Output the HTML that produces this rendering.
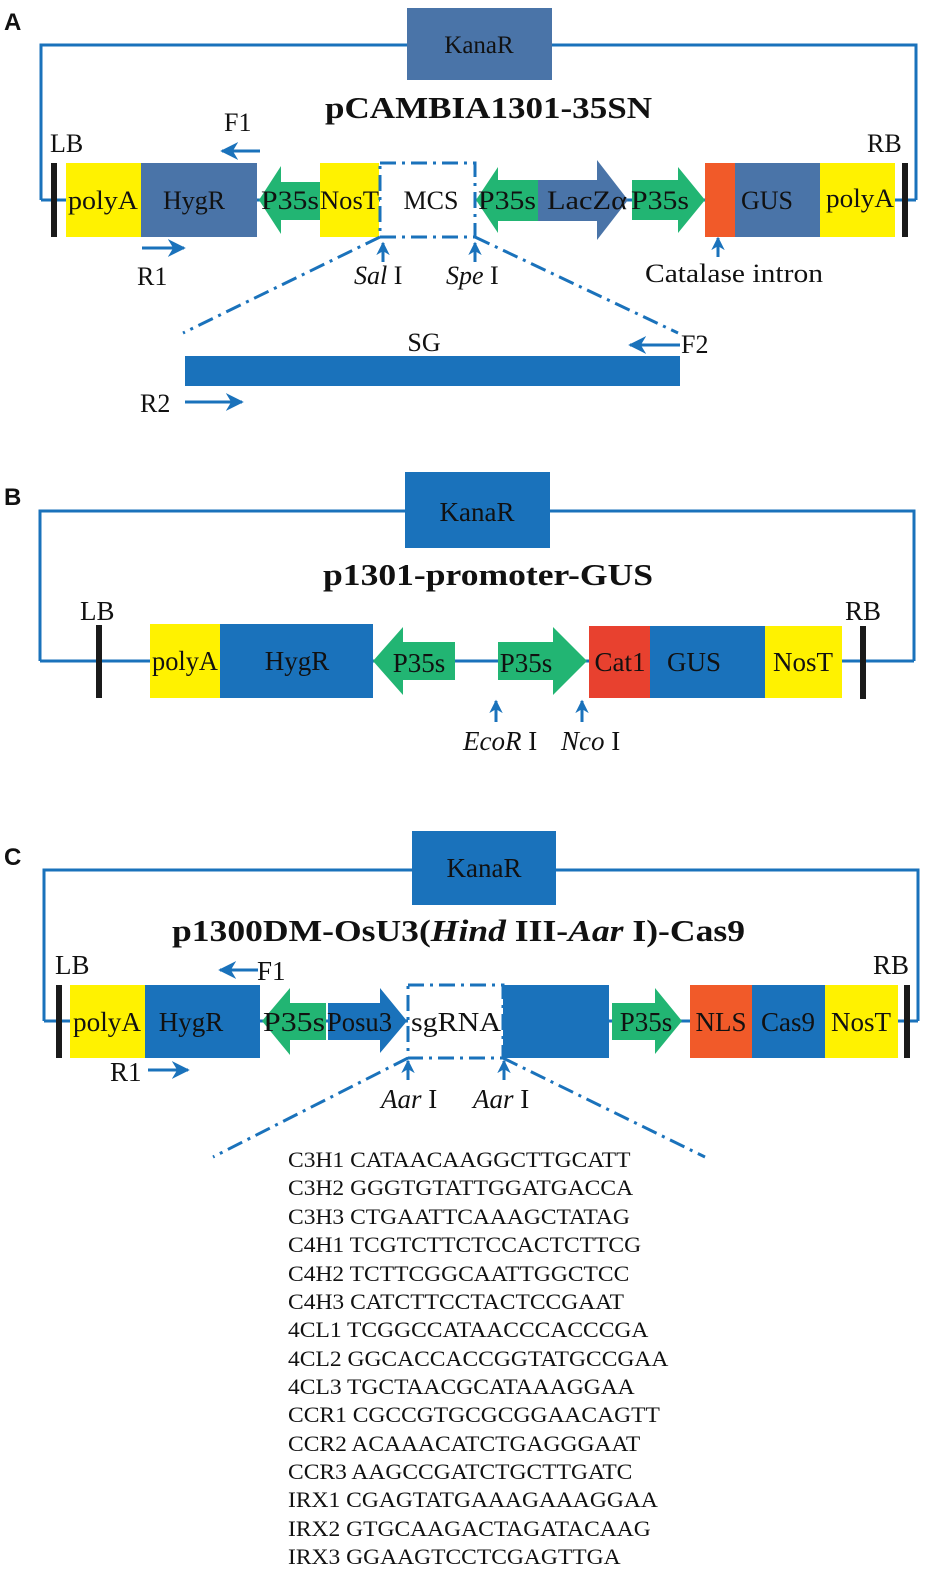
<!DOCTYPE html>
<html><head><meta charset="utf-8"><style>
html,body{margin:0;padding:0;background:#fff;}
svg{display:block;}
text{font-family:"Liberation Serif",serif;fill:#111;}
.pl{font-family:"Liberation Sans",sans-serif;font-weight:bold;font-size:24px;}
</style></head><body>
<svg width="938" height="1569" viewBox="0 0 938 1569" xmlns="http://www.w3.org/2000/svg">
<defs>
<marker id="ah" viewBox="0 0 10 10" refX="9" refY="5" markerWidth="6" markerHeight="6" orient="auto"><path d="M0,0 L10,5 L0,10 L3,5 Z" fill="#1a72bb"/></marker>
<marker id="ahs" viewBox="0 0 10 10" refX="9" refY="5" markerWidth="4.5" markerHeight="4.5" orient="auto"><path d="M0,0 L10,5 L0,10 L3,5 Z" fill="#1a72bb"/></marker>
</defs>
<!-- ===== Panel A ===== -->
<text class="pl" x="4" y="30">A</text>
<polyline points="41,200 41,45 916,45 916,200" fill="none" stroke="#1a72bb" stroke-width="3"/>
<line x1="41" y1="200" x2="916" y2="200" stroke="#1a72bb" stroke-width="3"/>
<rect x="407" y="8" width="145" height="72" fill="#4a74a8"/>
<text x="479" y="53" font-size="25" text-anchor="middle">KanaR</text>
<text x="325" y="118" font-size="31" font-weight="bold" textLength="327" lengthAdjust="spacingAndGlyphs">pCAMBIA1301-35SN</text>
<rect x="51" y="163" width="6" height="74" fill="#1a1a1a"/>
<rect x="66" y="163" width="75" height="74" fill="#fff200"/>
<rect x="141" y="163" width="116" height="74" fill="#4a74a8"/>
<polygon points="259,200 281,166 281,182 320,182 320,220 281,220 281,234" fill="#22b573"/>
<rect x="320" y="163" width="59" height="74" fill="#fff200"/>
<rect x="380" y="163" width="95" height="74" fill="#fff" stroke="#1a72bb" stroke-width="3" stroke-dasharray="16,6,3,6"/>
<polygon points="476,200 498,167 498,180 538,180 538,221 498,221 498,233" fill="#22b573"/>
<polygon points="538,180 597,180 597,160 628,200 597,240 597,221 538,221" fill="#4a74a8"/>
<polygon points="632,180 678,180 678,167 705,200 678,233 678,220 632,220" fill="#22b573"/>
<rect x="705" y="163" width="30" height="74" fill="#f15a29"/>
<rect x="735" y="163" width="85" height="74" fill="#4a74a8"/>
<rect x="820" y="163" width="75" height="74" fill="#fff200"/>
<rect x="902" y="163" width="6" height="74" fill="#1a1a1a"/>
<g font-size="26">
<text x="68" y="209" textLength="70" lengthAdjust="spacingAndGlyphs">polyA</text>
<text x="194" y="209" text-anchor="middle">HygR</text>
<text x="261" y="209" textLength="58" lengthAdjust="spacingAndGlyphs">P35s</text>
<text x="320" y="209" textLength="59" lengthAdjust="spacingAndGlyphs">NosT</text>
<text x="431" y="209" text-anchor="middle">MCS</text>
<text x="478" y="209" textLength="58" lengthAdjust="spacingAndGlyphs">P35s</text>
<text x="547" y="209" textLength="80" lengthAdjust="spacingAndGlyphs">LacZα</text>
<text x="631" y="209" textLength="58" lengthAdjust="spacingAndGlyphs">P35s</text>
<text x="767" y="209" text-anchor="middle">GUS</text>
<text x="826" y="207" textLength="68" lengthAdjust="spacingAndGlyphs">polyA</text>
<text x="50" y="152">LB</text>
<text x="867" y="152">RB</text>
<text x="224" y="131">F1</text>
<text x="137" y="285">R1</text>
<text x="354" y="284"><tspan font-style="italic">Sal</tspan> I</text>
<text x="446" y="284"><tspan font-style="italic">Spe</tspan> I</text>
<text x="645" y="282" textLength="178" lengthAdjust="spacingAndGlyphs">Catalase intron</text>
<text x="424" y="351" text-anchor="middle">SG</text>
<text x="681" y="353">F2</text>
<text x="140" y="412">R2</text>
</g>
<g stroke="#1a72bb" stroke-width="3" fill="none" marker-end="url(#ah)">
<line x1="260" y1="151" x2="222" y2="151"/>
<line x1="142" y1="248" x2="184" y2="248"/>
<line x1="680" y1="345" x2="630" y2="345"/>
<line x1="185" y1="402" x2="242" y2="402"/>
</g>
<g stroke="#1a72bb" stroke-width="3" fill="none" marker-end="url(#ahs)">
<line x1="383" y1="262" x2="383" y2="243"/>
<line x1="475" y1="262" x2="475" y2="243"/>
<line x1="718" y1="257" x2="718" y2="238"/>
</g>
<g stroke="#1a72bb" stroke-width="3" fill="none">
<line x1="380" y1="237" x2="183" y2="333" stroke-dasharray="16,6,3,6"/>
<line x1="475" y1="237" x2="678" y2="333" stroke-dasharray="16,6,3,6"/>
</g>
<rect x="185" y="356" width="495" height="30" fill="#1a72bb"/>

<!-- ===== Panel B ===== -->
<text class="pl" x="4" y="505">B</text>
<polyline points="40,661 40,511 914,511 914,661" fill="none" stroke="#1a72bb" stroke-width="3"/>
<line x1="40" y1="661" x2="914" y2="661" stroke="#1a72bb" stroke-width="3"/>
<rect x="405" y="472" width="145" height="76" fill="#1a72bb"/>
<text x="477" y="521" font-size="27" text-anchor="middle">KanaR</text>
<text x="323" y="585" font-size="31" font-weight="bold" textLength="330" lengthAdjust="spacingAndGlyphs">p1301-promoter-GUS</text>
<rect x="96" y="625" width="6" height="73" fill="#1a1a1a"/>
<rect x="150" y="624" width="70" height="74" fill="#fff200"/>
<rect x="220" y="624" width="153" height="74" fill="#1a72bb"/>
<polygon points="373,661 403,627 403,642 455,642 455,680 403,680 403,695" fill="#22b573"/>
<polygon points="498,642 553,642 553,627 587,661 553,695 553,680 498,680" fill="#22b573"/>
<rect x="589" y="626" width="61" height="72" fill="#e8412f"/>
<rect x="650" y="626" width="115" height="72" fill="#1a72bb"/>
<rect x="765" y="626" width="77" height="72" fill="#fff200"/>
<rect x="860" y="626" width="6" height="73" fill="#1a1a1a"/>
<g font-size="27">
<text x="152" y="670" textLength="66" lengthAdjust="spacingAndGlyphs">polyA</text>
<text x="297" y="670" text-anchor="middle">HygR</text>
<text x="419" y="672" text-anchor="middle">P35s</text>
<text x="526" y="672" text-anchor="middle">P35s</text>
<text x="620" y="671" text-anchor="middle">Cat1</text>
<text x="694" y="671" text-anchor="middle">GUS</text>
<text x="803" y="671" text-anchor="middle">NosT</text>
<text x="80" y="620">LB</text>
<text x="845" y="620">RB</text>
<text x="463" y="750"><tspan font-style="italic">EcoR</tspan> I</text>
<text x="561" y="750"><tspan font-style="italic">Nco</tspan> I</text>
</g>
<g stroke="#1a72bb" stroke-width="3" fill="none" marker-end="url(#ahs)">
<line x1="496" y1="722" x2="496" y2="701"/>
<line x1="582" y1="722" x2="582" y2="701"/>
</g>

<!-- ===== Panel C ===== -->
<text class="pl" x="4" y="865">C</text>
<polyline points="44,1021 44,870 918,870 918,1021" fill="none" stroke="#1a72bb" stroke-width="3"/>
<line x1="44" y1="1021" x2="918" y2="1021" stroke="#1a72bb" stroke-width="3"/>
<rect x="412" y="831" width="144" height="74" fill="#1a72bb"/>
<text x="484" y="877" font-size="27" text-anchor="middle">KanaR</text>
<text x="172" y="941" font-size="31" font-weight="bold" textLength="573" lengthAdjust="spacingAndGlyphs">p1300DM-OsU3(<tspan font-style="italic">Hind</tspan> III-<tspan font-style="italic">Aar</tspan> I)-Cas9</text>
<rect x="56" y="985" width="6" height="73" fill="#1a1a1a"/>
<rect x="70" y="985" width="75" height="73" fill="#fff200"/>
<rect x="145" y="985" width="115" height="73" fill="#1a72bb"/>
<polygon points="262,1021 290,988 290,1003 326,1003 326,1040 290,1040 290,1055" fill="#22b573"/>
<polygon points="328,1003 380,1003 380,988 407,1021 380,1053 380,1040 328,1040" fill="#1a72bb"/>
<rect x="408" y="985" width="95" height="73" fill="#fff" stroke="#1a72bb" stroke-width="3" stroke-dasharray="16,6,3,6"/>
<rect x="503" y="985" width="106" height="73" fill="#1a72bb"/>
<polygon points="612,1003 655,1003 655,988 682,1021 655,1054 655,1040 612,1040" fill="#22b573"/>
<rect x="690" y="985" width="62" height="73" fill="#f15a29"/>
<rect x="752" y="985" width="73" height="73" fill="#1a72bb"/>
<rect x="825" y="985" width="73" height="73" fill="#fff200"/>
<rect x="904" y="985" width="6" height="73" fill="#1a1a1a"/>
<g font-size="27">
<text x="73" y="1031" textLength="68" lengthAdjust="spacingAndGlyphs">polyA</text>
<text x="191" y="1031" text-anchor="middle">HygR</text>
<text x="263" y="1031" textLength="62" lengthAdjust="spacingAndGlyphs">P35s</text>
<text x="327" y="1031" textLength="65" lengthAdjust="spacingAndGlyphs">Posu3</text>
<text x="456" y="1031" text-anchor="middle" textLength="90" lengthAdjust="spacingAndGlyphs">sgRNA</text>
<text x="646" y="1031" text-anchor="middle">P35s</text>
<text x="721" y="1031" text-anchor="middle">NLS</text>
<text x="788" y="1031" text-anchor="middle">Cas9</text>
<text x="861" y="1031" text-anchor="middle">NosT</text>
<text x="55" y="974">LB</text>
<text x="873" y="974">RB</text>
<text x="257" y="980">F1</text>
<text x="110" y="1081">R1</text>
<text x="381" y="1108"><tspan font-style="italic">Aar</tspan> I</text>
<text x="473" y="1108"><tspan font-style="italic">Aar</tspan> I</text>
</g>
<g stroke="#1a72bb" stroke-width="3" fill="none" marker-end="url(#ah)">
<line x1="258" y1="970" x2="220" y2="970"/>
<line x1="148" y1="1070" x2="188" y2="1070"/>
</g>
<g stroke="#1a72bb" stroke-width="3" fill="none" marker-end="url(#ahs)">
<line x1="408" y1="1080" x2="408" y2="1061"/>
<line x1="504" y1="1080" x2="504" y2="1061"/>
</g>
<g stroke="#1a72bb" stroke-width="3" fill="none">
<line x1="408" y1="1058" x2="213" y2="1157" stroke-dasharray="16,6,3,6"/>
<line x1="503" y1="1058" x2="705" y2="1157" stroke-dasharray="16,6,3,6"/>
</g>
<g font-size="22" transform="translate(288,0) scale(1.07,1) translate(-288,0)">
<text x="288" y="1167">C3H1 CATAACAAGGCTTGCATT</text>
<text x="288" y="1195">C3H2 GGGTGTATTGGATGACCA</text>
<text x="288" y="1224">C3H3 CTGAATTCAAAGCTATAG</text>
<text x="288" y="1252">C4H1 TCGTCTTCTCCACTCTTCG</text>
<text x="288" y="1281">C4H2 TCTTCGGCAATTGGCTCC</text>
<text x="288" y="1309">C4H3 CATCTTCCTACTCCGAAT</text>
<text x="288" y="1337">4CL1 TCGGCCATAACCCACCCGA</text>
<text x="288" y="1366">4CL2 GGCACCACCGGTATGCCGAA</text>
<text x="288" y="1394">4CL3 TGCTAACGCATAAAGGAA</text>
<text x="288" y="1422">CCR1 CGCCGTGCGCGGAACAGTT</text>
<text x="288" y="1451">CCR2 ACAAACATCTGAGGGAAT</text>
<text x="288" y="1479">CCR3 AAGCCGATCTGCTTGATC</text>
<text x="288" y="1507">IRX1 CGAGTATGAAAGAAAGGAA</text>
<text x="288" y="1536">IRX2 GTGCAAGACTAGATACAAG</text>
<text x="288" y="1564">IRX3 GGAAGTCCTCGAGTTGA</text>
</g>
</svg>
</body></html>
